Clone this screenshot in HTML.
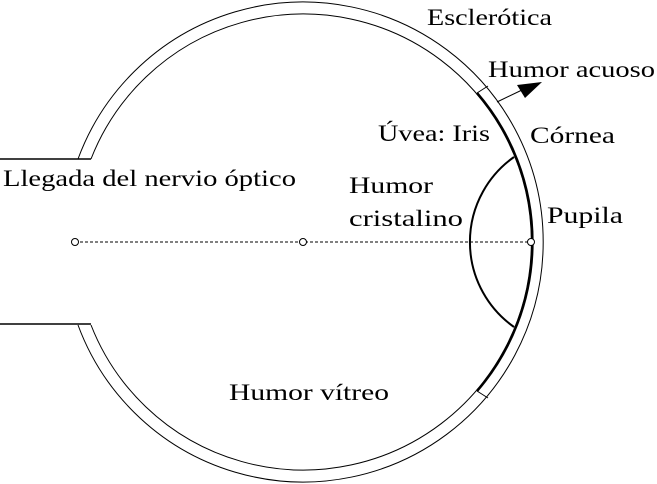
<!DOCTYPE html>
<html><head><meta charset="utf-8"><style>
html,body{margin:0;padding:0;background:#fff;}
svg{display:block;}
text{font-family:"Liberation Serif",serif;font-size:23px;fill:#000;}
</style></head><body>
<svg width="657" height="484" viewBox="0 0 657 484" xmlns="http://www.w3.org/2000/svg">
<g fill="none" stroke="#000">
<!-- outer circle r240 with gap on left -->
<path d="M78,159 A240,240 0 1 1 78,325" stroke-width="1"/>
<!-- inner circle r228 -->
<path d="M91,159 A228,228 0 1 1 91,325" stroke-width="1"/>
<!-- nerve lines -->
<line x1="0" y1="159" x2="91" y2="159" stroke-width="1.5"/>
<line x1="0" y1="324" x2="91" y2="324" stroke-width="1.5"/>
<!-- iris/cornea thick arc -->
<path d="M477,93 A228,228 0 0 1 477,391" stroke-width="2.5"/>
<!-- ticks -->
<line x1="477" y1="93" x2="488" y2="86" stroke-width="1"/>
<line x1="477" y1="391" x2="488" y2="398" stroke-width="1"/>
<!-- lens -->
<path d="M514,157 A104,104 0 0 0 514,327" stroke-width="2"/>
<!-- dashed axis -->
<line x1="75" y1="242" x2="531" y2="242" stroke-width="1" stroke-dasharray="3,2"/>
<!-- arrow -->
<line x1="497" y1="102" x2="522" y2="90" stroke-width="1"/>
</g>
<polygon points="517,85 542,82 525,98" fill="#000"/>
<g fill="#fff" stroke="#000" stroke-width="1">
<circle cx="75" cy="242" r="3.5"/>
<circle cx="303" cy="242" r="3.5"/>
<circle cx="531" cy="242" r="3.5"/>
</g>
<text x="427" y="25" textLength="125" lengthAdjust="spacingAndGlyphs">Esclerótica</text>
<text x="488" y="77" textLength="167" lengthAdjust="spacingAndGlyphs">Humor acuoso</text>
<text x="378" y="141" textLength="112" lengthAdjust="spacingAndGlyphs">Úvea: Iris</text>
<text x="530" y="143" textLength="85" lengthAdjust="spacingAndGlyphs">Córnea</text>
<text x="3" y="186" textLength="293" lengthAdjust="spacingAndGlyphs">Llegada del nervio óptico</text>
<text x="349" y="193" textLength="84" lengthAdjust="spacingAndGlyphs">Humor</text>
<text x="349" y="226" textLength="114" lengthAdjust="spacingAndGlyphs">cristalino</text>
<text x="547" y="223" textLength="76" lengthAdjust="spacingAndGlyphs">Pupila</text>
<text x="229" y="400" textLength="160" lengthAdjust="spacingAndGlyphs">Humor vítreo</text>
</svg>
</body></html>
